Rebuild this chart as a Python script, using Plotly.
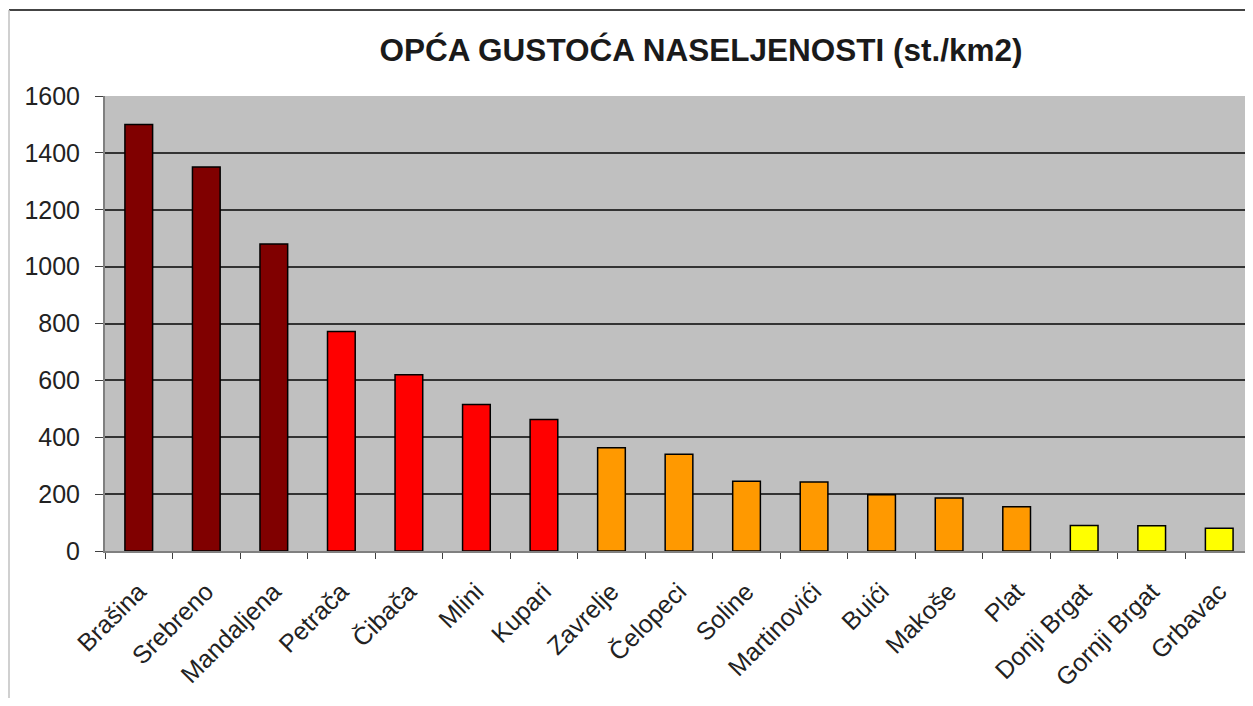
import plotly.graph_objects as go

# ── data ──────────────────────────────────────────────────────────────────────
places = [
    "Brašina", "Srebreno", "Mandaljena", "Petrača", "Čibača", "Mlini",
    "Kupari", "Zavrelje", "Čelopeci", "Soline", "Martinovići", "Buići",
    "Makoše", "Plat", "Donji Brgat", "Gornji Brgat", "Grbavac",
]
density = [1500, 1350, 1080, 772, 620, 515, 462, 363, 340, 245, 243, 198,
           186, 156, 90, 89, 80]
density_class = [1, 1, 1, 2, 2, 2, 2, 3, 3, 3, 3, 3, 3, 3, 4, 4, 4]

CLASS_COLOR = {1: "#800000", 2: "#FF0000", 3: "#FF9900", 4: "#FFFF00"}
FONT = "Liberation Sans, Arial, sans-serif"

# page body adds an 8px margin, so the figure is a bit smaller than the window
W, H = 1245, 690
M = dict(l=97, r=0, t=88, b=147)

fig = go.Figure(go.Bar(
    x=places,
    y=density,
    marker=dict(
        color=[CLASS_COLOR[c] for c in density_class],
        line=dict(color="#000000", width=1.5),
    ),
    hovertemplate="%{x}: %{y} st./km2<extra></extra>",
))

fig.update_layout(
    width=W, height=H,
    margin=M,
    paper_bgcolor="white",
    plot_bgcolor="#C0C0C0",
    bargap=0.59,
    showlegend=False,
    font=dict(family=FONT, color="#000000", size=25),
    title=dict(
        text="<b>OPĆA GUSTOĆA NASELJENOSTI (st./km2)</b>",
        xref="container", x=693 / W, xanchor="center",
        yref="container", y=1 - 42 / H, yanchor="middle",
        font=dict(family=FONT, size=31.5, color="#1a1a1a"),
    ),
)

fig.update_yaxes(
    range=[0, 1600], dtick=200,
    showgrid=True, gridcolor="#333333", gridwidth=1.5,
    zeroline=False,
    showline=True, linecolor="#808080", linewidth=2,
    ticks="outside", ticklen=8, tickcolor="#404040",
    ticklabelstandoff=10,
    tickfont=dict(size=25, color="#222222"),
)

fig.update_xaxes(
    tickangle=-45,
    showline=True, linecolor="#808080", linewidth=2,
    ticks="outside", tickson="boundaries", ticklen=6, tickcolor="#404040",
    ticklabelstandoff=14,
    tickfont=dict(size=25, color="#222222"),
)

# thin outer chart frame like the spreadsheet one
pw = W - M["l"] - M["r"]
ph = H - M["t"] - M["b"]
fig.add_shape(
    type="line", xref="paper", yref="paper",
    x0=-(M["l"] - 1) / pw, x1=1,
    y0=1 + (M["t"] - 2) / ph, y1=1 + (M["t"] - 2) / ph,
    line=dict(color="#444444", width=2),
)
fig.add_shape(
    type="line", xref="paper", yref="paper",
    x0=-(M["l"] - 1) / pw, x1=-(M["l"] - 1) / pw,
    y0=-M["b"] / ph, y1=1 + (M["t"] - 2) / ph,
    line=dict(color="#c0c0c0", width=1.5),
)

fig.write_html("out.html")
